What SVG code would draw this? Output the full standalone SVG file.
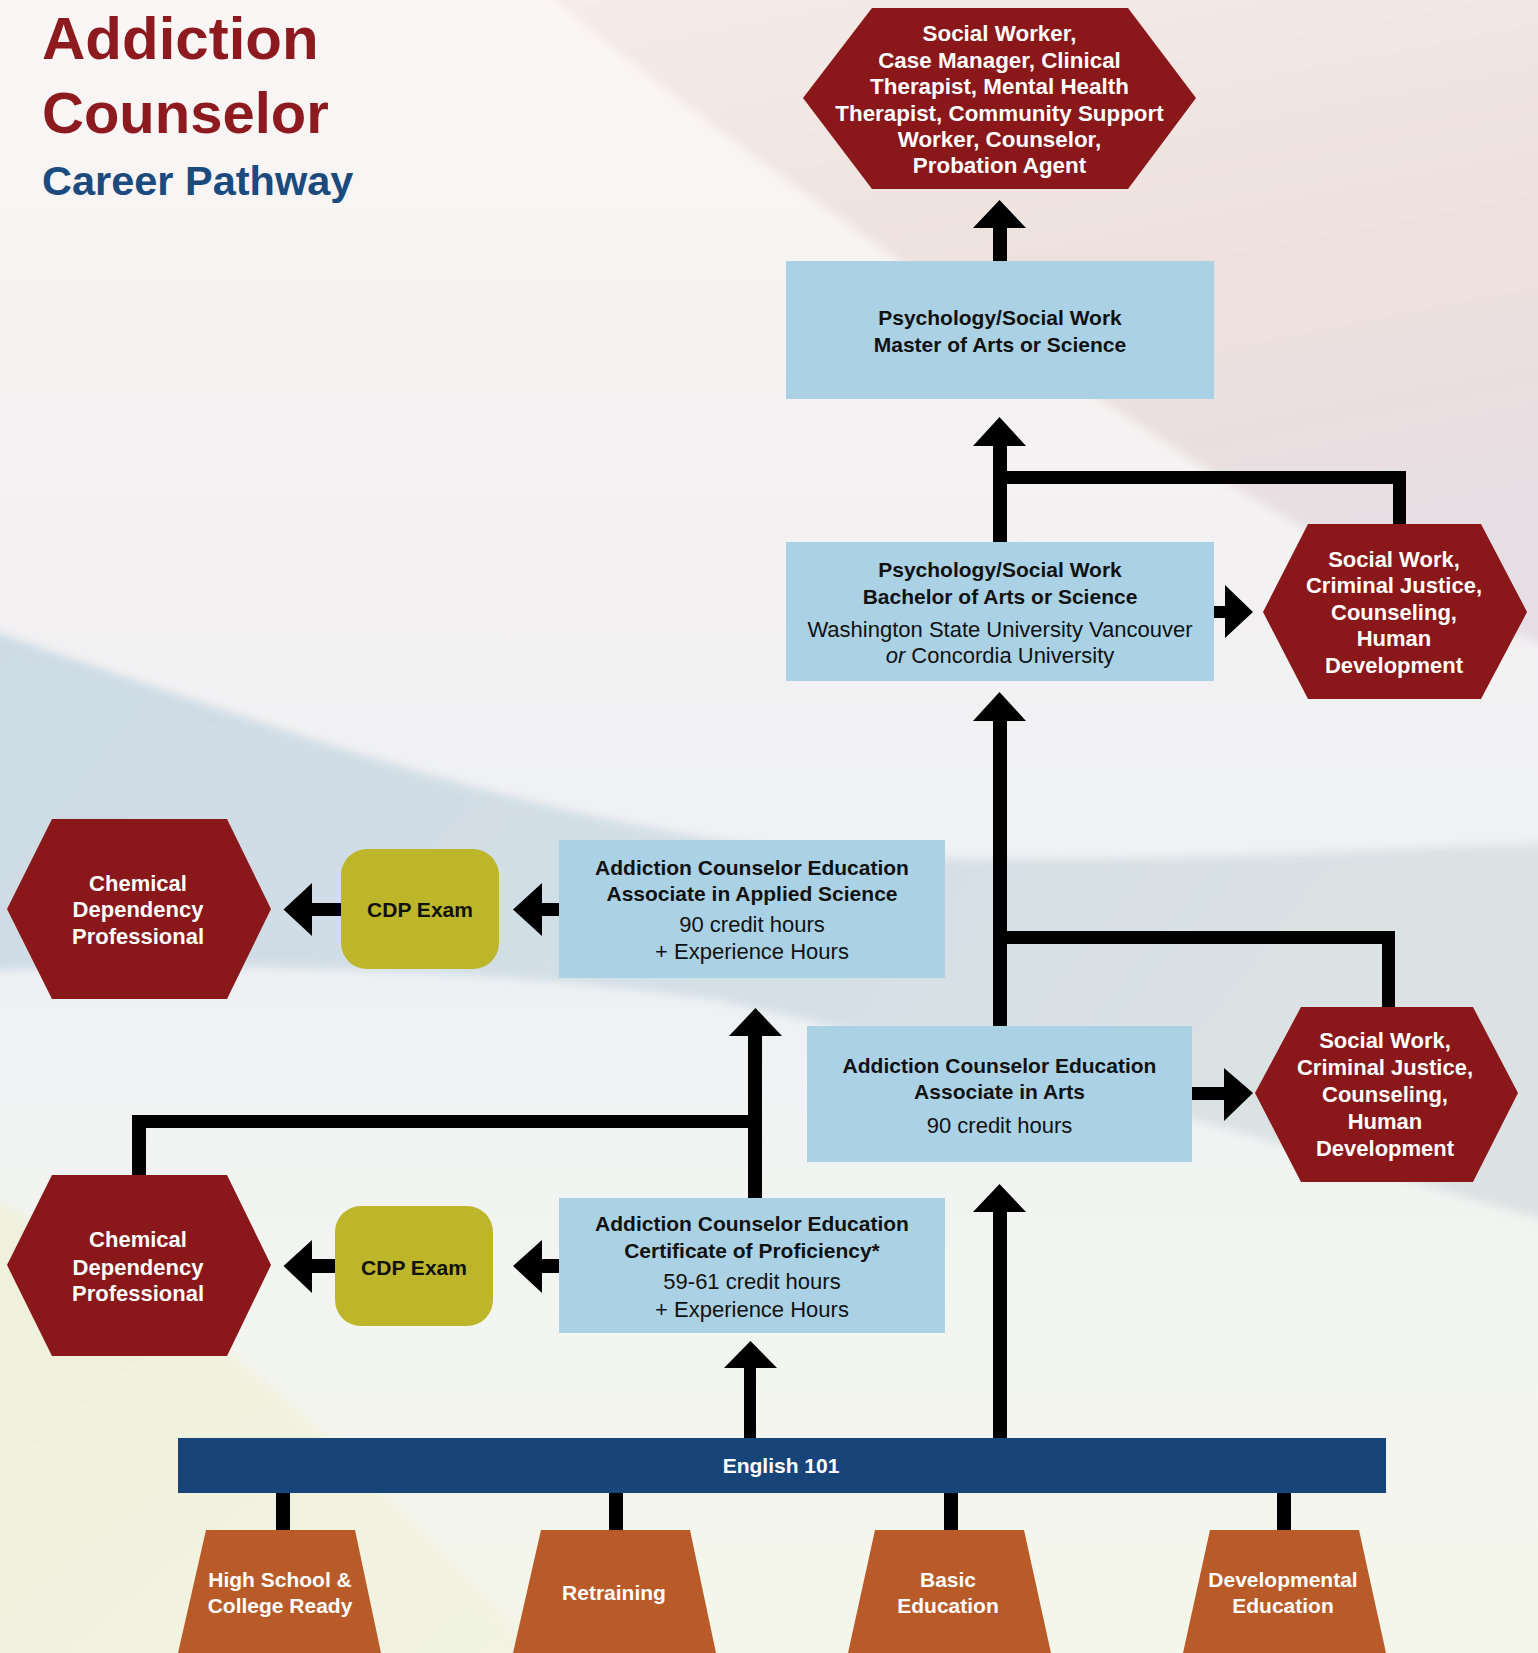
<svg xmlns="http://www.w3.org/2000/svg" width="1538" height="1653" viewBox="0 0 1538 1653">
<defs>
<linearGradient id="bg" x1="0" y1="0" x2="0" y2="1">
<stop offset="0" stop-color="#FAF6F5"/>
<stop offset="0.35" stop-color="#F3F1F2"/>
<stop offset="0.6" stop-color="#EEF1F3"/>
<stop offset="0.8" stop-color="#F3F5F0"/>
<stop offset="1" stop-color="#F5F6EA"/>
</linearGradient>
<linearGradient id="pink" x1="0" y1="0" x2="0.3" y2="1">
<stop offset="0" stop-color="#F5ECE8"/>
<stop offset="0.6" stop-color="#EEE0DD"/>
<stop offset="1" stop-color="#E6DFE4"/>
</linearGradient>
<linearGradient id="blue" x1="0" y1="0" x2="1" y2="0.3">
<stop offset="0" stop-color="#CDDBE5"/>
<stop offset="0.6" stop-color="#D4DFE6"/>
<stop offset="1" stop-color="#DCE2E3"/>
</linearGradient>
<linearGradient id="cream" x1="0" y1="0" x2="1" y2="1">
<stop offset="0" stop-color="#EFF1DB"/>
<stop offset="1" stop-color="#F2F3E3"/>
</linearGradient>
<filter id="soft" x="-0.1" y="-0.1" width="1.2" height="1.2">
<feGaussianBlur stdDeviation="5"/>
</filter>
<style>
.hex{fill:#8A171A}
.box{fill:#ABD1E5}
.cdp{fill:#BDB62B}
.eng{fill:#17457A}
.trap{fill:#B95B28}
.con{fill:#000}
text{font-family:"Liberation Sans",Arial,sans-serif;text-anchor:middle}
.w{fill:#fff;font-weight:bold;font-size:22px}
.b{fill:#111;font-weight:bold;font-size:21px}
.r{fill:#111;font-size:22px}
.t{fill:#fff;font-weight:bold;font-size:21px}
</style>
</defs>
<rect width="1538" height="1653" fill="url(#bg)"/>
<g filter="url(#soft)">
<path d="M520,-30 C700,125 950,300 1200,465 C1350,560 1450,610 1580,660 L1580,-30 Z" fill="url(#pink)"/>
<path d="M-40,620 C200,700 450,800 750,845 C950,872 1250,855 1580,842 L1580,1230 C1300,1150 1000,1060 716,1000 C550,975 250,958 -40,972 Z" fill="url(#blue)"/>
<path d="M-40,1180 C120,1265 230,1345 330,1440 L580,1690 L-40,1690 Z" fill="url(#cream)"/>
</g>

<g id="title">
<text x="42" y="59" style="text-anchor:start;font-weight:bold;font-size:60px;fill:#8C1A1E">Addiction</text>
<text x="42" y="133" style="text-anchor:start;font-weight:bold;font-size:58px;fill:#8C1A1E">Counselor</text>
<text x="42" y="195" style="text-anchor:start;font-weight:bold;font-size:41.5px;fill:#1A4A7E">Career Pathway</text>
</g>

<g id="connectors">
<polygon class="con" points="993,261 993,228 973,228 999.5,200 1026,228 1007,228 1007,261"/>
<polygon class="con" points="993,542 993,446 973,446 999.5,417 1026,446 1007,446 1007,542"/>
<polygon class="con" points="1000,471 1406,471 1406,524 1393,524 1393,484 1000,484"/>
<polygon class="con" points="1214,606 1225,606 1225,585 1253,612 1225,638 1225,618 1214,618"/>
<polygon class="con" points="993,1026 993,721 973,721 999.5,692 1026,721 1007,721 1007,1026"/>
<polygon class="con" points="1000,931 1395,931 1395,1007 1382,1007 1382,944 1000,944"/>
<polygon class="con" points="1192,1087 1224,1087 1224,1068 1253,1093 1224,1121 1224,1100 1192,1100"/>
<polygon class="con" points="993,1438 993,1212 973,1212 999.5,1184 1026,1212 1007,1212 1007,1438"/>
<polygon class="con" points="748,1198 748,1036 729,1036 755.5,1008 782,1036 762,1036 762,1198"/>
<polygon class="con" points="755,1115 132,1115 132,1175 146,1175 146,1128 755,1128"/>
<polygon class="con" points="744,1438 744,1368 724,1368 750.5,1341 777,1368 756,1368 756,1438"/>
<polygon class="con" points="559,903 542,903 542,883 513,909.5 542,936 542,916 559,916"/>
<polygon class="con" points="341,903 312,903 312,883 283.5,909.5 312,936 312,916 341,916"/>
<polygon class="con" points="559,1259 542,1259 542,1240 513,1266 542,1293 542,1273 559,1273"/>
<polygon class="con" points="335,1259 312,1259 312,1240 283.5,1266 312,1293 312,1273 335,1273"/>
<rect class="con" x="276" y="1490" width="14" height="42"/>
<rect class="con" x="609" y="1490" width="14" height="42"/>
<rect class="con" x="944" y="1490" width="14" height="42"/>
<rect class="con" x="1277" y="1490" width="14" height="42"/>
</g>

<g id="careers-top">
<polygon class="hex" points="803,98 872,8 1128,8 1196,98 1128,189 872,189"/>
<text class="w" style="font-size:22.4px" x="999.5" y="41">Social Worker,</text>
<text class="w" style="font-size:22.4px" x="999.5" y="68">Case Manager, Clinical</text>
<text class="w" style="font-size:22.4px" x="999.5" y="94">Therapist, Mental Health</text>
<text class="w" style="font-size:22.4px" x="999.5" y="121">Therapist, Community Support</text>
<text class="w" style="font-size:22.4px" x="999.5" y="147">Worker, Counselor,</text>
<text class="w" style="font-size:22.4px" x="999.5" y="173">Probation Agent</text>
</g>

<g id="master">
<rect class="box" x="786" y="261" width="428" height="138"/>
<text class="b" x="1000" y="325">Psychology/Social Work</text>
<text class="b" x="1000" y="352">Master of Arts or Science</text>
</g>

<g id="bachelor">
<rect class="box" x="786" y="542" width="428" height="139"/>
<text class="b" x="1000" y="577">Psychology/Social Work</text>
<text class="b" x="1000" y="604">Bachelor of Arts or Science</text>
<text class="r" x="1000" y="637">Washington State University Vancouver</text>
<text class="r" x="1000" y="663"><tspan font-style="italic">or</tspan> Concordia University</text>
</g>

<g id="careers-bachelor">
<polygon class="hex" points="1263,612 1308,524 1481,524 1527,612 1481,699 1308,699"/>
<text class="w" x="1394" y="567">Social Work,</text>
<text class="w" x="1394" y="593">Criminal Justice,</text>
<text class="w" x="1394" y="620">Counseling,</text>
<text class="w" x="1394" y="646">Human</text>
<text class="w" x="1394" y="673">Development</text>
</g>

<g id="chem1">
<polygon class="hex" points="7,909 52,819 227,819 271,909 227,999 52,999"/>
<text class="w" x="138" y="891">Chemical</text>
<text class="w" x="138" y="917">Dependency</text>
<text class="w" x="138" y="944">Professional</text>
</g>

<g id="cdp1">
<rect class="cdp" x="341" y="849" width="158" height="120" rx="26"/>
<text class="b" x="420" y="917">CDP Exam</text>
</g>

<g id="aas">
<rect class="box" x="559" y="840" width="386" height="138"/>
<text class="b" x="752" y="875">Addiction Counselor Education</text>
<text class="b" x="752" y="901">Associate in Applied Science</text>
<text class="r" x="752" y="932">90 credit hours</text>
<text class="r" x="752" y="959">+ Experience Hours</text>
</g>

<g id="aa">
<rect class="box" x="807" y="1026" width="385" height="136"/>
<text class="b" x="999.5" y="1073">Addiction Counselor Education</text>
<text class="b" x="999.5" y="1099">Associate in Arts</text>
<text class="r" x="999.5" y="1133">90 credit hours</text>
</g>

<g id="careers-aa">
<polygon class="hex" points="1255,1093 1301,1007 1473,1007 1518,1093 1473,1182 1301,1182"/>
<text class="w" x="1385" y="1048">Social Work,</text>
<text class="w" x="1385" y="1075">Criminal Justice,</text>
<text class="w" x="1385" y="1102">Counseling,</text>
<text class="w" x="1385" y="1129">Human</text>
<text class="w" x="1385" y="1156">Development</text>
</g>

<g id="chem2">
<polygon class="hex" points="7,1265 52,1175 227,1175 271,1265 227,1356 52,1356"/>
<text class="w" x="138" y="1247">Chemical</text>
<text class="w" x="138" y="1275">Dependency</text>
<text class="w" x="138" y="1301">Professional</text>
</g>

<g id="cdp2">
<rect class="cdp" x="335" y="1206" width="158" height="120" rx="26"/>
<text class="b" x="414" y="1275">CDP Exam</text>
</g>

<g id="cert">
<rect class="box" x="559" y="1198" width="386" height="135"/>
<text class="b" x="752" y="1231">Addiction Counselor Education</text>
<text class="b" x="752" y="1258">Certificate of Proficiency*</text>
<text class="r" x="752" y="1289">59-61 credit hours</text>
<text class="r" x="752" y="1317">+ Experience Hours</text>
</g>

<g id="english">
<rect class="eng" x="178" y="1438" width="1208" height="55"/>
<text class="t" x="781" y="1473">English 101</text>
</g>

<g id="entry-hs">
<polygon class="trap" points="206,1530 355,1530 381,1653 178,1653"/>
<text class="t" x="280" y="1587">High School &amp;</text>
<text class="t" x="280" y="1613">College Ready</text>
</g>
<g id="entry-retraining">
<polygon class="trap" points="541,1530 690,1530 716,1653 513,1653"/>
<text class="t" x="614" y="1600">Retraining</text>
</g>
<g id="entry-basic">
<polygon class="trap" points="875,1530 1024,1530 1051,1653 848,1653"/>
<text class="t" x="948" y="1587">Basic</text>
<text class="t" x="948" y="1613">Education</text>
</g>
<g id="entry-dev">
<polygon class="trap" points="1210,1530 1359,1530 1386,1653 1183,1653"/>
<text class="t" x="1283" y="1587">Developmental</text>
<text class="t" x="1283" y="1613">Education</text>
</g>
</svg>
